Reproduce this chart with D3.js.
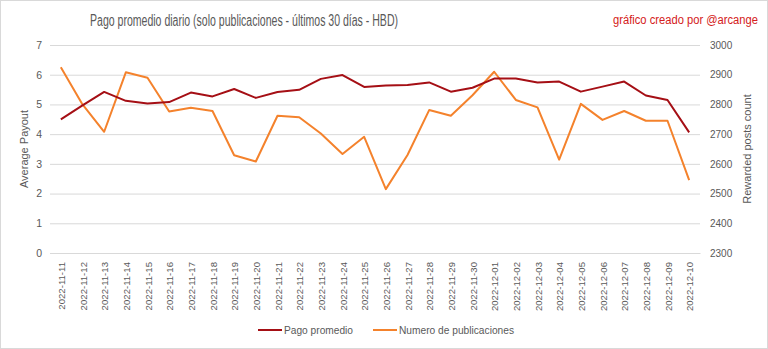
<!DOCTYPE html>
<html><head><meta charset="utf-8">
<script src="https://cdn.jsdelivr.net/npm/d3@7"></script>
<style>
html,body{margin:0;padding:0;background:#fff;}
svg{display:block;}
text{font-family:"Liberation Sans","Arial",sans-serif;}
</style></head>
<body><div id="chart"></div>
<script>
const dates = ["2022-11-11","2022-11-12","2022-11-13","2022-11-14","2022-11-15","2022-11-16","2022-11-17","2022-11-18","2022-11-19","2022-11-20","2022-11-21","2022-11-22","2022-11-23","2022-11-24","2022-11-25","2022-11-26","2022-11-27","2022-11-28","2022-11-29","2022-11-30","2022-12-01","2022-12-02","2022-12-03","2022-12-04","2022-12-05","2022-12-06","2022-12-07","2022-12-08","2022-12-09","2022-12-10"];
const pagoPromedio = [4.50,4.97,5.42,5.12,5.03,5.08,5.40,5.27,5.52,5.22,5.42,5.49,5.86,5.99,5.59,5.64,5.65,5.74,5.43,5.56,5.87,5.87,5.74,5.77,5.43,5.60,5.77,5.30,5.15,4.06];
const numeroPublicaciones = [2925,2800,2708,2908,2890,2776,2789,2778,2629,2608,2762,2757,2702,2633,2691,2515,2630,2781,2762,2831,2910,2815,2790,2614,2802,2748,2778,2745,2745,2545];
const leftTicks = [0,1,2,3,4,5,6,7];
const rightTicks = [2300,2400,2500,2600,2700,2800,2900,3000];
const titleText = "Pago promedio diario (solo publicaciones - últimos 30 días - HBD)";
const creditText = "gráfico creado por @arcange";
const seriesNames = ["Pago promedio","Numero de publicaciones"];
const colors = ["#a50f15","#f4822c"];

const W=768,H=349;
const m={left:50,right:68,top:45,bottom:96};
const svg=d3.select("#chart").append("svg").attr("width",W).attr("height",H);
svg.append("rect").attr("x",0.5).attr("y",0.5).attr("width",W-1).attr("height",H-1).attr("fill","#fff").attr("stroke","#d9d9d9");

const x=d3.scaleBand().domain(dates).range([m.left,W-m.right]).paddingInner(0).paddingOuter(0);
const yL=d3.scaleLinear().domain([0,7]).range([H-m.bottom,m.top]);
const yR=d3.scaleLinear().domain([2300,3000]).range([H-m.bottom,m.top]);
const cx=d=>x(d)+x.bandwidth()/2;

// gridlines
const gAxisL=svg.append("g").attr("transform",`translate(${m.left},0)`)
  .call(d3.axisLeft(yL).tickValues(leftTicks).tickSize(-(W-m.left-m.right)).tickPadding(8).tickFormat(d3.format("d")));
gAxisL.select(".domain").remove();
gAxisL.selectAll(".tick line").attr("stroke","#d9d9d9").attr("stroke-width",1);
gAxisL.selectAll(".tick text").attr("fill","#595959").style("font-size","10.5px");

const gAxisR=svg.append("g").attr("transform",`translate(${W-m.right},0)`)
  .call(d3.axisRight(yR).tickValues(rightTicks).tickSize(0).tickPadding(10).tickFormat(d3.format("d")));
gAxisR.select(".domain").remove();
gAxisR.selectAll(".tick text").attr("fill","#595959").style("font-size","10px");

// x axis
const gX=svg.append("g").attr("transform",`translate(0,${H-m.bottom})`)
  .call(d3.axisBottom(x).tickSize(0).tickPadding(0));
gX.select(".domain").attr("stroke","#d9d9d9");
gX.selectAll(".tick text").attr("fill","#595959").style("font-size","9.6px")
  .attr("text-anchor","end").attr("transform","translate(4,9) rotate(-90)").attr("dy","0").attr("x",0).attr("y",0);

// lines
const lineL=d3.line().x((d,i)=>cx(dates[i])).y(d=>yL(d));
const lineR=d3.line().x((d,i)=>cx(dates[i])).y(d=>yR(d));
svg.append("path").datum(numeroPublicaciones).attr("d",lineR).attr("fill","none").attr("stroke",colors[1]).attr("stroke-width",2).attr("stroke-linejoin","round");
svg.append("path").datum(pagoPromedio).attr("d",lineL).attr("fill","none").attr("stroke",colors[0]).attr("stroke-width",2).attr("stroke-linejoin","round");

// axis titles
svg.append("text").attr("transform","translate(28,149) rotate(-90)").attr("text-anchor","middle")
  .attr("fill","#595959").style("font-size","11px").text("Average Payout");
svg.append("text").attr("transform","translate(751,149) rotate(-90)").attr("text-anchor","middle")
  .attr("fill","#595959").style("font-size","11px").text("Rewarded posts count");

// title
svg.append("text").attr("x",90).attr("y",26).attr("fill","#595959").style("font-size","16px")
  .attr("textLength",308).attr("lengthAdjust","spacingAndGlyphs").text(titleText);
svg.append("text").attr("x",613).attr("y",24).attr("fill","#d42020").style("font-size","12px")
  .attr("textLength",145).attr("lengthAdjust","spacingAndGlyphs").text(creditText);

// legend
const leg=[{x:258,tx:284,w:69},{x:373,tx:399,w:115}];
seriesNames.forEach((n,i)=>{
  svg.append("line").attr("x1",leg[i].x).attr("x2",leg[i].x+24).attr("y1",330).attr("y2",330).attr("stroke",colors[i]).attr("stroke-width",2);
  svg.append("text").attr("x",leg[i].tx).attr("y",334).attr("fill","#595959").style("font-size","10.5px")
    .attr("textLength",leg[i].w).attr("lengthAdjust","spacingAndGlyphs").text(n);
});
</script></body></html>
